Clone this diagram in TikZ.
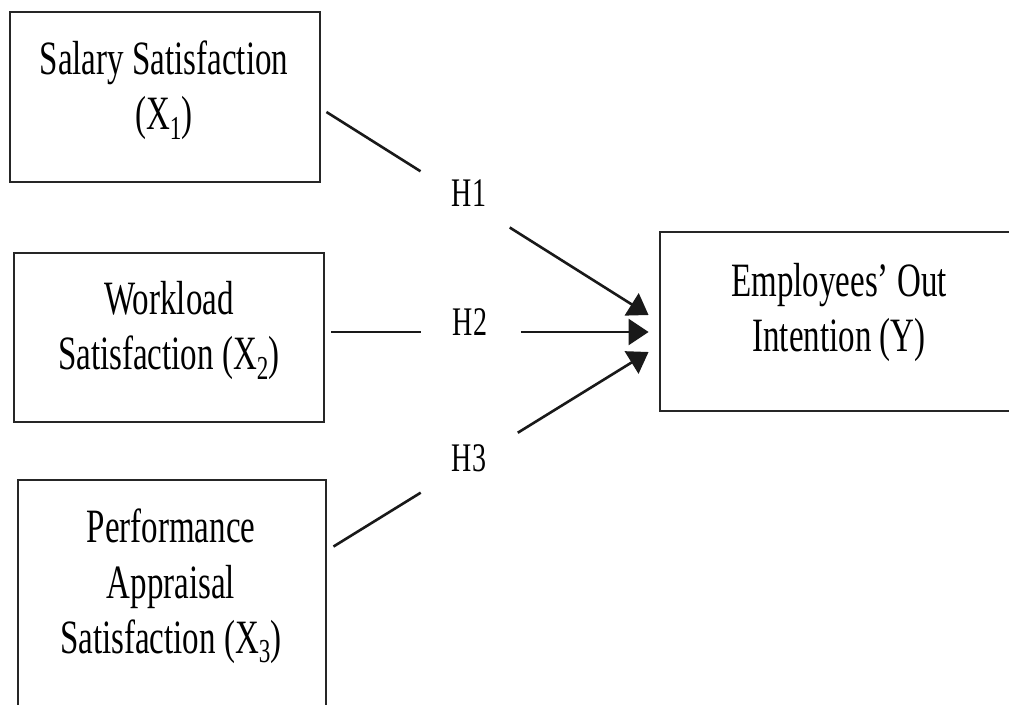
\documentclass[tikz,border=0pt]{standalone}
\usepackage{fontspec}
\setmainfont{Liberation Serif}
\usetikzlibrary{arrows.meta,calc}
\newcommand\talltext[2][33]{\scalebox{1}[1.45]{\fontsize{#1}{38}\selectfont\begin{tabular}{@{}c@{}}#2\end{tabular}}}
\newcommand\tallone[2][28]{\scalebox{1}[1.45]{\fontsize{#1}{34}\selectfont #2}}
\begin{document}
\begin{tikzpicture}[x=1pt,y=-1pt,
  box/.style={draw=black!85,line width=2.9pt,inner sep=0pt,fill=none},
  lbl/.style={inner sep=0pt},
  conn/.style={line width=2.6pt,draw=black!90},
  arr/.style={conn,-{Triangle[length=20pt,width=26pt]}}]
\useasboundingbox (0,0) rectangle (1009,704);
\clip (0,0) rectangle (1009,704);
% boxes
\node[box,minimum width=310pt,minimum height=170pt] (x1) at (165,97) {};
\node[box,minimum width=310pt,minimum height=169pt] (x2) at (169,337.5) {};
\node[box,minimum width=308pt,minimum height=260pt] (x3) at (172,610) {};
\node[box,minimum width=380pt,minimum height=179pt] (y) at (850,321.5) {};
% texts
\node[lbl] (t1) at (164,91) {\talltext{Salary Satisfaction\\(X\textsubscript{1})}};
\node[lbl] (t2) at (169,331) {\talltext{Workload\\Satisfaction (X\textsubscript{2})}};
\node[lbl] (t3) at (171,587) {\talltext{Performance\\Appraisal\\Satisfaction (X\textsubscript{3})}};
\node[lbl] (ty) at (839,313) {\talltext{Employees’ Out\\Intention (Y)}};
% hypothesis labels
\node[lbl,anchor=base] (h1) at (469,206) {\tallone{H1}};
\node[lbl,anchor=base] (h2) at (470,335) {\tallone{H2}};
\node[lbl,anchor=base] (h3) at (469,471) {\tallone{H3}};
% connector end points
\coordinate (s1) at ($(x1.east)+(5,15)$);
\coordinate (s2) at ($(x2.east)+(6,-5.5)$);
\coordinate (s3) at ($(x3.north east)+(6,68)$);
\coordinate (e1) at ($(y.west)+(-10,-6.5)$);
\coordinate (e2) at ($(y.west)+(-10,10.5)$);
\coordinate (e3) at ($(y.west)+(-10,30.5)$);
% connectors
\draw[conn] (s1) -- ($(s1)!0.292!(e1)$);
\draw[arr] ($(s1)!0.569!(e1)$) -- (e1);
\draw[conn] (s2) -- ($(s2)!0.281!(e2)$);
\draw[arr] ($(s2)!0.597!(e2)$) -- (e2);
\draw[conn] (s3) -- ($(s3)!0.277!(e3)$);
\draw[arr] ($(s3)!0.585!(e3)$) -- (e3);
\end{tikzpicture}
\end{document}
